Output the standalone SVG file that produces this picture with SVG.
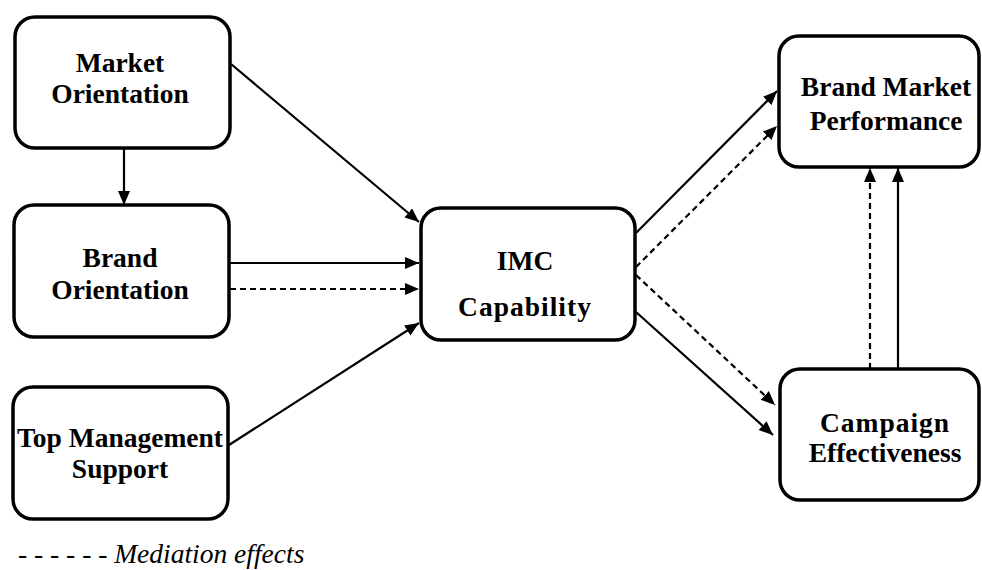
<svg xmlns="http://www.w3.org/2000/svg" width="982" height="570" viewBox="0 0 982 570">
<style>
.box{fill:#fff;stroke:#000;stroke-width:3.5}
.lbl{font-family:"Liberation Serif","Times New Roman",serif;font-weight:bold;font-size:27.5px;fill:#000;text-anchor:middle}
.ln{stroke:#000;stroke-width:2.2;fill:none;marker-end:url(#ah)}
.dash{stroke-dasharray:6 4}
.legend{font-family:"Liberation Serif","Times New Roman",serif;font-style:italic;font-size:27.5px;fill:#000}
</style>
<defs>
<marker id="ah" markerUnits="userSpaceOnUse" markerWidth="16" markerHeight="14" refX="14" refY="6" orient="auto">
<path d="M0,0 L14,6 L0,12 z" fill="#000"/>
</marker>
</defs>
<rect width="982" height="570" fill="#fff"/>
<g id="connectors">
<line class="ln" x1="124" y1="149" x2="124" y2="205"/>
<line class="ln" x1="231" y1="64" x2="419" y2="222"/>
<line class="ln" x1="230" y1="263" x2="419" y2="263"/>
<line class="ln dash" x1="230" y1="289" x2="419" y2="289"/>
<line class="ln" x1="229" y1="445" x2="419" y2="323"/>
<line class="ln" x1="636" y1="233" x2="777" y2="91"/>
<line class="ln dash" x1="636" y1="267" x2="777" y2="126"/>
<line class="ln dash" x1="636" y1="275" x2="775" y2="405"/>
<line class="ln" x1="636" y1="312" x2="773" y2="435"/>
<line class="ln dash" x1="870" y1="369" x2="870" y2="168"/>
<line class="ln" x1="898" y1="369" x2="898" y2="168"/>
</g>
<g id="market-orientation">
<rect class="box" x="15" y="17" width="215" height="131" rx="20"/>
<text class="lbl" x="120" y="72">Market</text>
<text class="lbl" x="120" y="103">Orientation</text>
</g>
<g id="brand-orientation">
<rect class="box" x="14" y="205" width="215" height="132" rx="20"/>
<text class="lbl" x="120" y="267">Brand</text>
<text class="lbl" x="120" y="299">Orientation</text>
</g>
<g id="top-management-support">
<rect class="box" x="13" y="387" width="215" height="132" rx="20"/>
<text class="lbl" x="120" y="447">Top Management</text>
<text class="lbl" x="120" y="478">Support</text>
</g>
<g id="imc-capability">
<rect class="box" x="421" y="208" width="214" height="132" rx="20"/>
<text class="lbl" x="525" y="270">IMC</text>
<text class="lbl" x="525" y="316" style="letter-spacing:1px">Capability</text>
</g>
<g id="brand-market-performance">
<rect class="box" x="779" y="36" width="200" height="131" rx="20"/>
<text class="lbl" x="886" y="96">Brand Market</text>
<text class="lbl" x="886" y="130">Performance</text>
</g>
<g id="campaign-effectiveness">
<rect class="box" x="780" y="369" width="199" height="131" rx="20"/>
<text class="lbl" x="885" y="432" style="letter-spacing:1px">Campaign</text>
<text class="lbl" x="885" y="462">Effectiveness</text>
</g>
<text class="legend" x="18" y="563">- - - - - - Mediation effects</text>
</svg>
